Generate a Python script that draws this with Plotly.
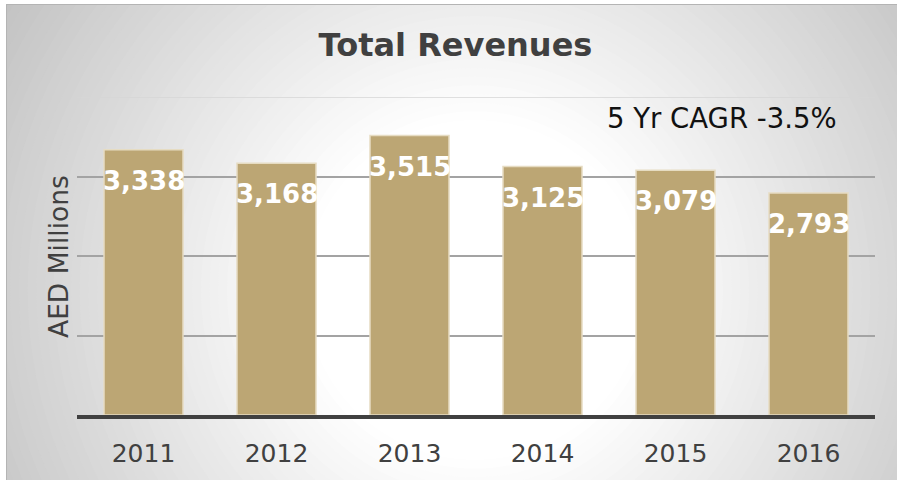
import plotly.graph_objects as go

# ---- data ----
years = ["2011", "2012", "2013", "2014", "2015", "2016"]
revenues = [3338, 3168, 3515, 3125, 3079, 2793]
title_text = "Total Revenues"
y_title = "AED Millions"
cagr_text = "5 Yr CAGR -3.5%"
grid_values = [1000, 2000, 3000]
top_grid = 4000

W, H = 897, 482
L, R, T, B = 77, 22, 97, 67
PW, PH = W - L - R, H - T - B


def px_x(px):
    return (px - L) / PW


def px_y(py):
    return (H - B - py) / PH


shapes = []
# radial gradient background built from nested circles
cx, cy = 475, 290
r_in, r_out = 170, 560
edge, centre = 194, 255
n = 45
for k in range(n, -1, -1):
    r = r_in + (r_out - r_in) * k / n
    g = round(centre - (centre - edge) * k / n)
    col = f"rgb({g},{g},{g})"
    shapes.append(dict(type="circle", xref="paper", yref="paper", layer="below",
                       x0=px_x(cx - r), x1=px_x(cx + r), y0=px_y(cy + r), y1=px_y(cy - r),
                       fillcolor=col, line=dict(width=0)))
# white outer border strips
for (x0, x1, y0, y1) in [(-10, W + 10, -10, 4), (-10, 6, -10, H + 10), (-10, W + 10, 480, H + 10)]:
    shapes.append(dict(type="rect", xref="paper", yref="paper", layer="below",
                       x0=px_x(x0), x1=px_x(x1), y0=px_y(y1), y1=px_y(y0),
                       fillcolor="white", line=dict(width=0)))
# thin frame lines top/left
shapes.append(dict(type="line", xref="paper", yref="paper", layer="below",
                   x0=px_x(6), x1=px_x(W + 5), y0=px_y(4.5), y1=px_y(4.5),
                   line=dict(color="#b4b4b4", width=1)))
shapes.append(dict(type="line", xref="paper", yref="paper", layer="below",
                   x0=px_x(6.5), x1=px_x(6.5), y0=px_y(4), y1=px_y(480),
                   line=dict(color="#b4b4b4", width=1)))
# lighter top gridline
shapes.append(dict(type="line", xref="paper", yref="y", layer="below",
                   x0=0, x1=1, y0=top_grid, y1=top_grid,
                   line=dict(color="#d6d6d6", width=1.5)))

fig = go.Figure()
fig.add_trace(go.Bar(
    x=years, y=revenues,
    marker=dict(color="#BCA674", line=dict(color="#E6DCC2", width=1.5)),
    hoverinfo="skip",
))

annotations = []
for i, v in enumerate(revenues):
    annotations.append(dict(x=i, y=v, xref="x", yref="y", text=f"{v:,}",
                            showarrow=False, yanchor="middle", yshift=-31,
                            font=dict(family="DejaVu Sans", size=26, color="white", weight="bold")))
annotations.append(dict(x=px_x(605), y=px_y(118), xref="paper", yref="paper",
                        text=cagr_text, showarrow=False, xanchor="left", yanchor="middle",
                        font=dict(family="DejaVu Sans", size=27.5, color="#111111")))
annotations.append(dict(x=px_x(58), y=px_y(257), xref="paper", yref="paper",
                        text=y_title, showarrow=False, textangle=-90,
                        xanchor="center", yanchor="middle",
                        font=dict(family="DejaVu Sans", size=26.5, color="#404040")))

fig.update_layout(
    width=W, height=H,
    margin=dict(l=L, r=R, t=T, b=B),
    paper_bgcolor="white",
    plot_bgcolor="rgba(0,0,0,0)",
    title=dict(text=title_text, x=455.5 / W, xanchor="center", y=1 - 45 / H, yanchor="middle",
               font=dict(family="DejaVu Sans", size=32, color="#404040", weight="bold")),
    bargap=0.406,
    showlegend=False,
    shapes=shapes,
    annotations=annotations,
    xaxis=dict(type="category", showline=True, linecolor="#404040", linewidth=4, ticks="",
               ticklabelstandoff=13,
               tickfont=dict(family="DejaVu Sans", size=25, color="#404040"),
               showgrid=False),
    yaxis=dict(range=[0, 4000], tickvals=grid_values, showticklabels=False,
               showgrid=True, gridcolor="#a3a3a3", gridwidth=1.5, zeroline=False,
               showline=False, ticks=""),
)

fig.write_html("out.html", config={"displayModeBar": False},
               post_script="document.body.style.margin='0';")
